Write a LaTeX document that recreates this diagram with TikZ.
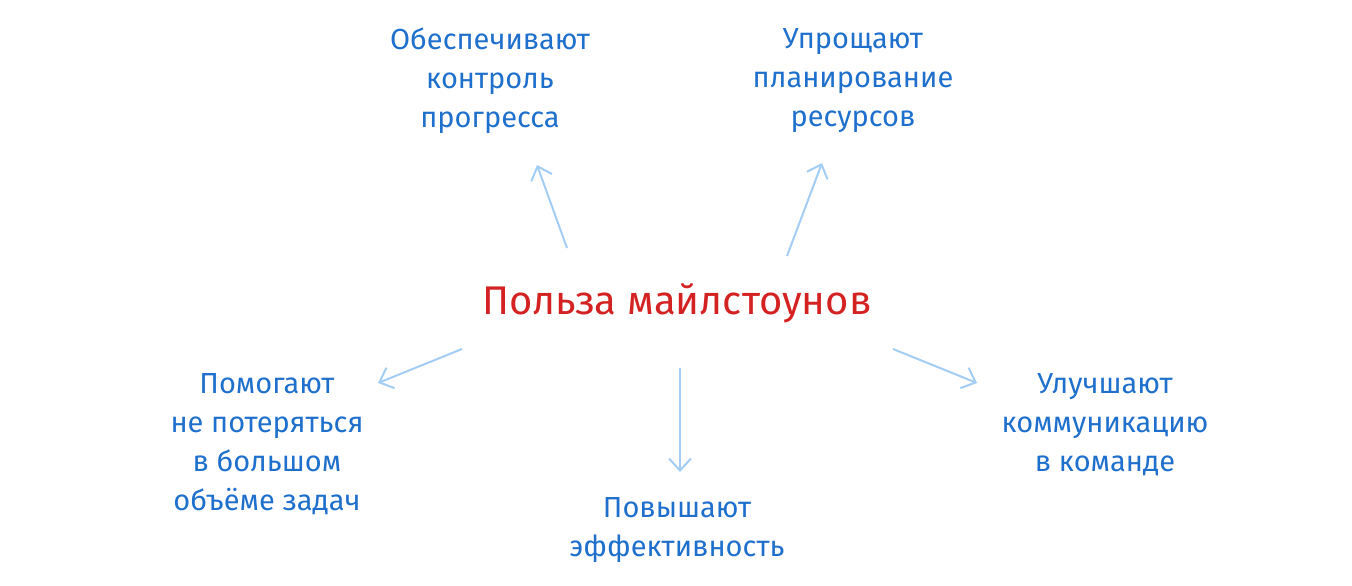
\documentclass[tikz,border=0pt]{standalone}
\usepackage{fontspec}
\setmainfont{Fira Sans}
\usetikzlibrary{arrows.meta}
\definecolor{tblue}{HTML}{1F6FCC}
\definecolor{ablue}{HTML}{A3CDF5}
\definecolor{tred}{HTML}{D42222}
\begin{document}
\begin{tikzpicture}[x=1pt,y=-1pt,
  lbl/.style={text=tblue,align=center,font=\fontsize{29}{39}\selectfont,inner sep=0pt},
  arr/.style={ablue,line width=2pt,-{Straight Barb[length=12pt,width=22pt,line width=2pt]}}]
\useasboundingbox (0,0) rectangle (1352,586);
\node[text=tred,font=\fontsize{40}{48}\selectfont,inner sep=0pt] (t) at (677,303) {Польза майлстоунов};
\node[lbl] (a) at (490,81) {Обеспечивают\\контроль\\прогресса};
\node[lbl] (b) at (853,81) {Упрощают\\планирование\\ресурсов};
\node[lbl] (c) at (267,444) {Помогают\\не потеряться\\в большом\\объёме задач};
\node[lbl] (d) at (677,530) {Повышают\\эффективность};
\node[lbl] (e) at (1105,425) {Улучшают\\коммуникацию\\в команде};
\coordinate (a1) at (567,248); \coordinate (a2) at (537,165);
\coordinate (b1) at (787,256); \coordinate (b2) at (822,163);
\coordinate (c1) at (462,349); \coordinate (c2) at (378,383);
\coordinate (d1) at (680,368); \coordinate (d2) at (680,472);
\coordinate (e1) at (893,349); \coordinate (e2) at (977,383);
\draw[arr] (a1) -- (a2);
\draw[arr] (b1) -- (b2);
\draw[arr] (c1) -- (c2);
\draw[arr] (d1) -- (d2);
\draw[arr] (e1) -- (e2);
\end{tikzpicture}
\end{document}
